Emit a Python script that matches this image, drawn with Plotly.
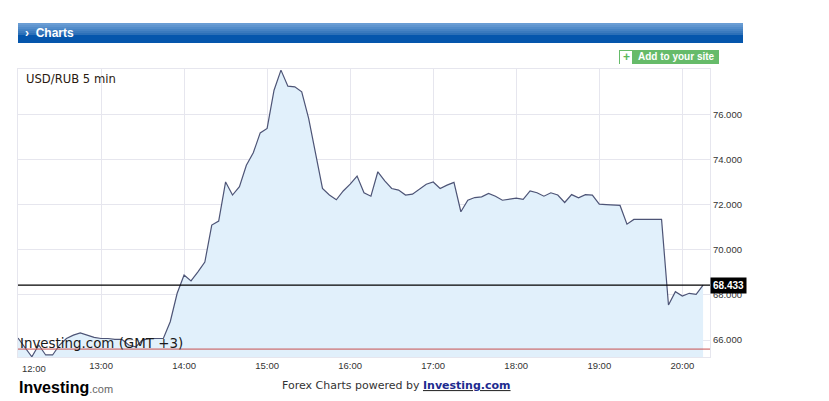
import pandas as pd
import plotly.graph_objects as go

# USD/RUB, 5 minute closes from 12:00 (GMT+3)
start_time = "2014-12-16 12:00"
rate = [
    66.09, 65.70, 65.26, 65.78, 65.34, 65.34, 65.78, 66.07, 66.22, 66.32,
    66.22, 66.12, 66.07, 66.07, 66.03, 66.03, 65.78, 65.70, 66.00, 66.07,
    66.07, 66.07, 66.81, 68.07, 68.88, 68.62, 69.02, 69.45, 71.09, 71.27,
    73.00, 72.42, 72.79, 73.74, 74.29, 75.17, 75.37, 77.06, 77.95, 77.24,
    77.21, 76.99, 75.81, 74.33, 72.71, 72.42, 72.21, 72.60, 72.90, 73.26,
    72.52, 72.37, 73.45, 73.05, 72.71, 72.64, 72.42, 72.46, 72.67, 72.90,
    73.00, 72.71, 72.86, 72.98, 71.68, 72.19, 72.31, 72.34, 72.49, 72.37,
    72.19, 72.24, 72.28, 72.23, 72.60, 72.52, 72.37, 72.52, 72.42, 72.09,
    72.44, 72.30, 72.44, 72.42, 72.02, 72.00, 71.99, 71.96, 71.13, 71.34,
    71.34, 71.34, 71.34, 71.34, 67.55, 68.14, 67.95, 68.07, 68.02, 68.433,
]
last_price = 68.433
low_level = 65.60
price_ticks = [66, 68, 70, 72, 74, 76]
hour_ticks = ["12:00", "13:00", "14:00", "15:00", "16:00", "17:00", "18:00", "19:00", "20:00"]

times = pd.date_range(start_time, periods=len(rate), freq="5min")
day = start_time.split(" ")[0]

# page body has an 8px margin, so the figure is drawn 8px in from the corner
PAD = 8
W, H = 829 - PAD, 401 - PAD
L, R, T, B = 18, 710, 69, 357   # plot area in page pixels


def px(x):
    return (x - L) / (R - L)


def py(y):
    return (B - y) / (B - T)


fig = go.Figure(go.Scatter(
    x=times, y=rate, mode="lines", fill="tozeroy",
    line=dict(color="#4d5476", width=1.2),
    fillcolor="#e1f0fb", hoverinfo="x+y", showlegend=False,
))

shapes = []
# header bar with a fake gradient
bands = ["#6a9dd4", "#5f95cf", "#528cca", "#4683c4", "#3a7abe", "#2c70b8"]
for k, c in enumerate(bands):
    shapes.append(dict(type="rect", xref="paper", yref="paper",
                       x0=px(18), x1=px(743), y0=py(23 + 2 * k), y1=py(25 + 2 * k),
                       fillcolor=c, line_width=0))
shapes.append(dict(type="rect", xref="paper", yref="paper",
                   x0=px(18), x1=px(743), y0=py(35), y1=py(43),
                   fillcolor="#0556ac", line_width=0))
# "add to your site" button
shapes.append(dict(type="rect", xref="paper", yref="paper",
                   x0=px(619), x1=px(719), y0=py(50), y1=py(64),
                   fillcolor="#66bb6a", line_width=0))
shapes.append(dict(type="rect", xref="paper", yref="paper",
                   x0=px(620), x1=px(632), y0=py(51), y1=py(64),
                   fillcolor="white", line_width=0))
# current price line and low line
shapes.append(dict(type="line", xref="paper", yref="y", x0=0, x1=1,
                   y0=last_price, y1=last_price, line=dict(color="black", width=1.2)))
shapes.append(dict(type="line", xref="paper", yref="y", x0=0, x1=1,
                   y0=low_level, y1=low_level, line=dict(color="#c9504f", width=1)))

ann = [
    dict(text="<b>›  Charts</b>", x=px(23), y=py(33), xanchor="left", yanchor="middle",
         font=dict(family="Arial", size=12, color="white")),
    dict(text="<b>+</b>", x=px(626), y=py(57.5), xanchor="center", yanchor="middle",
         font=dict(family="Arial", size=12, color="#5cb85c")),
    dict(text="<b>Add to your site</b>", x=px(676), y=py(57), xanchor="center", yanchor="middle",
         font=dict(family="Arial", size=10, color="white")),
    dict(text="USD/RUB 5 min", x=px(24), y=py(79), xanchor="left", yanchor="middle",
         font=dict(family="DejaVu Sans", size=11.6, color="#2a1a10")),
    dict(text="Investing.com (GMT +3)", x=px(18), y=py(343), xanchor="left", yanchor="middle",
         font=dict(family="DejaVu Sans", size=13.4, color="#1a1a1a")),
    dict(text="<b>%.3f</b>" % last_price, x=1, y=last_price, xref="paper", yref="y",
         xanchor="left", yanchor="middle", bgcolor="black", borderpad=2,
         font=dict(family="Arial", size=10, color="white")),
    dict(text=hour_ticks[0], x=px(20), y=py(368), xanchor="left", yanchor="middle",
         font=dict(family="Arial", size=9.5, color="#333")),
    dict(text="<b>Investing</b><span style='font-size:11px;color:#666'>.com</span>",
         x=px(17), y=py(387), xanchor="left", yanchor="middle",
         font=dict(family="Arial", size=16, color="black")),
    dict(text="Forex Charts powered by <b><u><span style='color:#1d2b8f'>Investing.com</span></u></b>",
         x=px(280), y=py(385), xanchor="left", yanchor="middle",
         font=dict(family="DejaVu Sans", size=11, color="#333")),
]
for a in ann:
    a.setdefault("xref", "paper")
    a.setdefault("yref", "paper")
    a["showarrow"] = False

fig.update_layout(
    width=W, height=H,
    margin=dict(l=L - PAD, r=829 - R, t=T - PAD, b=401 - B),
    paper_bgcolor="white", plot_bgcolor="white",
    shapes=shapes, annotations=ann,
    xaxis=dict(
        range=[pd.Timestamp(day + " 12:00"), pd.Timestamp(day + " 20:20")],
        tickvals=[pd.Timestamp(day + " " + h) for h in hour_ticks[1:]],
        ticktext=hour_ticks[1:],
        showgrid=True, gridcolor="#e6e6ee", gridwidth=1,
        showline=True, linecolor="#e6e6ee", mirror=True,
        ticks="", tickfont=dict(family="Arial", size=9.5, color="#333"),
        zeroline=False, fixedrange=True,
    ),
    yaxis=dict(
        side="right", range=[65.25, 78], tickvals=price_ticks, tickformat=".3f",
        showgrid=True, gridcolor="#e6e6ee", gridwidth=1,
        showline=True, linecolor="#e6e6ee", mirror=True,
        ticks="", tickfont=dict(family="Arial", size=9.5, color="#333"),
        zeroline=False, fixedrange=True,
    ),
)

fig.write_html("out.html")
